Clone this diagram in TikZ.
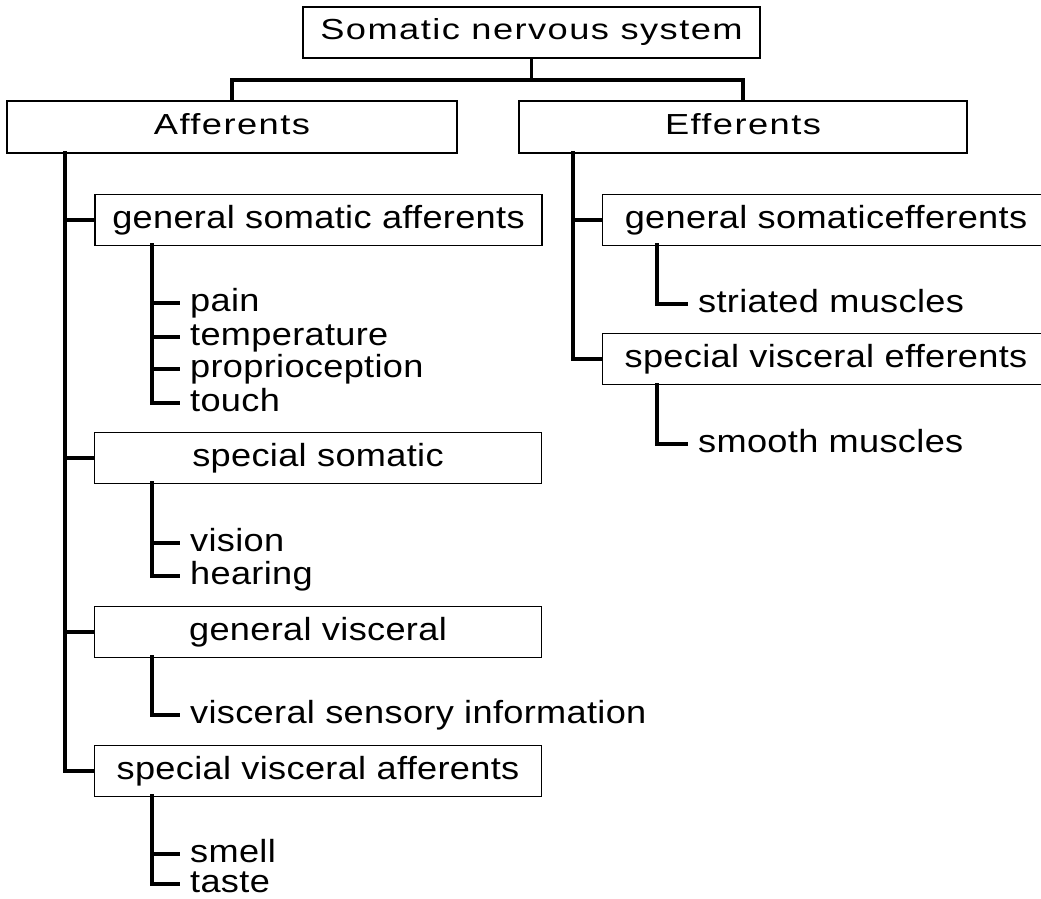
\documentclass[tikz,border=0pt]{standalone}
\usepackage{fontspec}
\setmainfont{Liberation Sans}
\newfontfamily\headfont[FakeStretch=1.25,LetterSpace=5]{Liberation Sans}
\newfontfamily\itemfont[FakeStretch=1.13,LetterSpace=1]{Liberation Sans}
\begin{document}
\begin{tikzpicture}[x=1pt,y=-1pt,
  box/.style={draw, line width=1.8pt, rectangle, inner sep=0pt, anchor=center, text depth=0pt},
  headbox/.style={box, text height=15pt, font=\headfont\fontsize{29}{34}\selectfont},
  subbox/.style={box, minimum width=447pt, minimum height=51pt, text height=16.5pt,
    font=\itemfont\fontsize{32}{38}\selectfont},
  leaf/.style={anchor=west, inner xsep=12pt, inner ysep=0pt, text height=16.5pt, text depth=0pt,
    font=\itemfont\fontsize{32}{38}\selectfont},
  conn/.style={line width=3.3pt, line cap=rect}]
\fill[white] (0,0) rectangle (1041,899);
\clip (0,0) rectangle (1041,899);

% top level
\node[headbox, minimum width=457pt, minimum height=51pt] (sns) at (531.5,32.5) {Somatic nervous system};
\node[headbox, minimum width=450pt, minimum height=52pt] (aff) at (232,127) {Afferents};
\node[headbox, minimum width=448pt, minimum height=52pt] (eff) at (743,127) {Efferents};
\coordinate (bar) at (531.5,80);
\draw[conn] (sns.south) -- (bar);
\draw[conn] (aff.north) |- (bar) -| (eff.north);

% afferent categories
\node[subbox] (gsa) at (318.5,220) {general somatic afferents};
\node[subbox] (ss)  at (318,458) {special somatic};
\node[subbox] (gv)  at (318,632) {general visceral};
\node[subbox] (sva) at (318,771) {special visceral afferents};
\coordinate (affT) at (65,153);
\draw[conn] (affT) |- (sva.west);
\foreach \b in {gsa,ss,gv} \draw[conn] (affT |- \b.west) -- (\b.west);

% efferent categories
\node[subbox] (gse) at (826,220) {general somaticefferents};
\node[subbox] (sve) at (826,359) {special visceral efferents};
\coordinate (effT) at (573,153);
\draw[conn] (effT) |- (sve.west);
\draw[conn] (effT |- gse.west) -- (gse.west);

% leaves under general somatic afferents
\node[leaf] (pain)  at (178,303) {pain};
\node[leaf] (temp)  at (178,337) {temperature};
\node[leaf] (prop)  at (178,369) {proprioception};
\node[leaf] (touch) at (178,403) {touch};
\coordinate (gsaT) at (152,245);
\draw[conn] (gsaT) |- (touch.west);
\foreach \l in {pain,temp,prop} \draw[conn] (gsaT |- \l.west) -- (\l.west);

% leaves under special somatic
\node[leaf] (vision)  at (178,543) {vision};
\node[leaf] (hearing) at (178,576) {hearing};
\coordinate (ssT) at (152,483);
\draw[conn] (ssT) |- (hearing.west);
\draw[conn] (ssT |- vision.west) -- (vision.west);

% leaf under general visceral
\node[leaf] (vsi) at (178,715) {visceral sensory information};
\coordinate (gvT) at (152,657);
\draw[conn] (gvT) |- (vsi.west);

% leaves under special visceral afferents
\node[leaf] (smell) at (178,854) {smell};
\node[leaf] (taste) at (178,884) {taste};
\coordinate (svaT) at (152,796);
\draw[conn] (svaT) |- (taste.west);
\draw[conn] (svaT |- smell.west) -- (smell.west);

% efferent leaves
\node[leaf] (stri) at (686,304) {striated muscles};
\coordinate (gseT) at (657,245);
\draw[conn] (gseT) |- (stri.west);
\node[leaf] (smooth) at (686,444) {smooth muscles};
\coordinate (sveT) at (657,385);
\draw[conn] (sveT) |- (smooth.west);
\end{tikzpicture}
\end{document}
